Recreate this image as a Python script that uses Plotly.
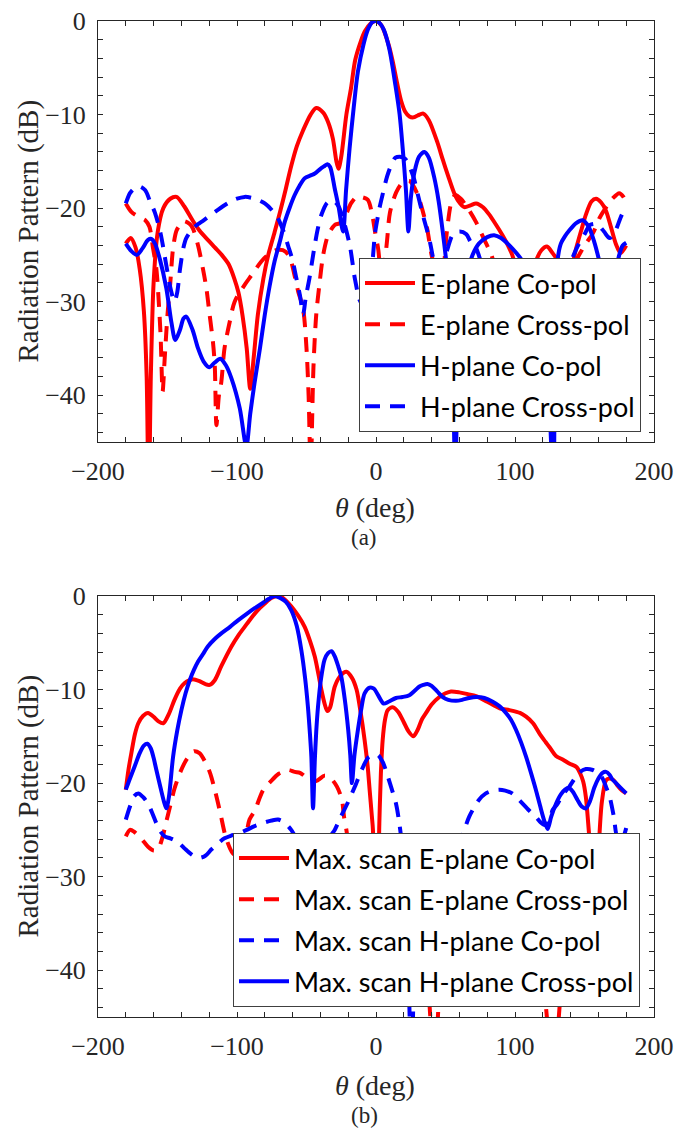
import plotly.graph_objects as go

# ---------------- (a) broadside patterns ----------------
theta_a_e_co = [-180, -176.5, -173, -170, -167, -165, -163.5, -162, -160, -157, -153, -148, -143.5, -138, -132,
                -127, -121, -116, -111, -106, -102, -99, -96, -93, -90.5, -88, -85, -81, -77.5, -73, -69, -65,
                -61, -57, -52.5, -47, -43, -38, -34.5, -31, -28.5, -27, -25, -21.3, -18, -15, -11, -8, -4, 0,
                4, 9, 12, 15, 18, 21, 24, 27, 30, 34, 38, 44, 48, 52, 56, 59, 63.5, 68, 72, 77, 81.5, 86, 91,
                95, 98, 102, 107, 112, 115, 119, 123, 127, 131, 136, 140, 144, 148, 151, 155, 158.3, 162,
                165.5, 169, 172.5, 176, 180]
db_a_e_co = [-23.8, -23.2, -24.2, -26.5, -31, -38, -52, -38, -28, -22.5, -20, -19, -18.8, -19.8, -21.3,
             -22.4, -23.4, -24.2, -25, -26, -27.5, -29, -31.5, -35, -39.3, -36, -31.4, -27.5, -25, -22.6, -20.4, -18,
             -15.5, -13.4, -11.7, -10, -9.3, -9.8, -10.8, -12.6, -15, -15.8, -14.5, -10, -7.2, -4.2, -2.2, -1.1, -0.3, 0,
             -0.5, -2.5, -4.3, -6.5, -8.5, -9.7, -10.2, -10.3, -10.1, -9.9, -10.6, -12.9, -14.8, -16.6, -18.3, -19.2, -19.9, -19.7, -19.5, -19.9, -20.7, -21.7, -22.9,
             -24, -25, -27, -29, -27.5, -25.7, -24.5, -24.1, -24.8, -25.7, -28, -26.8, -24.3, -22.2, -20.7, -19.3, -19, -19.4,
             -20.3, -22, -23.8, -24.8, -24]

theta_a_e_x = [-180, -176, -170, -166, -163, -160.5, -158, -156.5, -155, -153.5, -152, -150, -148, -146, -143.5,
               -140, -138, -134, -131.7, -128, -124.5, -122, -119.7, -117.3, -116, -114.8, -113, -111.3, -109,
               -105.3, -101.7, -94.5, -89.7, -82.5, -77.7, -72, -67, -63, -61, -56, -52.5, -50, -48.5, -47, -45,
               -43, -40.5, -38, -34.5, -29.7, -26, -22, -18, -14, -11, -6, -3, -0.5, 1.7, 4, 6.5, 8, 10, 14.6,
               19, 24, 29.5, 36.5, 41, 45.6, 48, 51, 54, 57, 61, 66, 72, 78, 83, 88, 95, 105, 115, 125, 135,
               142, 150, 156, 161, 166, 170, 175, 178, 180]
db_a_e_x = [-19.5, -20.4, -21, -21.3, -22, -24.2, -26.5, -29.5, -33.5, -39.6, -36, -31.4, -28, -24.3, -22.4,
            -21.6, -21.4, -21.7, -22.2, -24, -26.5, -28.6, -31.4, -34.3, -36.8, -43.2, -40, -38.6, -35,
            -32.2, -30, -28.2, -27.2, -25.7, -25, -24.5, -24.5, -25, -25.7, -28.9, -30.7, -35, -40, -48, -37,
            -31.4, -27.9, -25, -22.9, -21.8, -21.6, -20.8, -19.5, -18.8, -18.8, -19.1, -20.5, -22.7, -24.5, -28, -25.5, -23.4, -20.5, -18.3,
            -17.3, -17.1, -18.4, -22, -25.6, -26.8, -26.5, -22.5, -19.5, -18.6, -19, -20, -21.5, -23.4, -25, -27.5, -31, -35, -33, -29, -27,
            -26, -24, -22.7, -21, -19.8, -19, -18.4, -18.8, -19.5]

theta_a_h_co = [-180, -176, -172, -168, -164, -161.6, -159, -155.6, -150.8, -147.2, -144.4, -141, -138.5, -136.5,
                -132, -128, -124, -120, -116, -112, -108, -104, -98, -93.3, -90.5, -87.3, -83.5, -80, -76.5, -73,
                -69, -65.7, -62, -58.5, -55, -51.3, -47, -44, -40, -37, -35, -33, -29.7, -27, -23.7, -21.5, -19,
                -16, -13, -9, -5.8, -2.5, 0, 2.5, 5.5, 9.6, 14, 17, 19.2, 21.5, 23.3, 25, 27.6, 31, 34.8, 38, 42,
                45, 48, 51.6, 54.5, 57, 59.5, 63, 66, 69.5, 74, 80, 85, 90, 98, 105.5, 112, 118, 123, 127.5,
                129, 130.7, 133, 136, 139, 144, 148.7, 153, 157, 160.7, 164, 168, 172, 175, 177.5, 180]
db_a_h_co = [-23.8, -24.6, -25, -24.3, -23.4, -23.3, -23.8, -25.4, -28.6, -32.2, -34.1, -33, -31.8, -31.6,
             -33, -35, -36.4, -37, -36.5, -36.1, -36.8, -38.2, -41.4, -45.5, -42, -38.6, -35, -31.4, -28.3, -25.7,
             -23.5, -21.5, -19.9, -18.6, -17.6, -16.8, -16.5, -16.3, -15.8, -15.5, -15.3, -15.6, -17.9, -19.8, -22.5, -18, -13.6,
             -9.2, -5.4, -2.5, -0.9, -0.1, 0, -0.2, -0.9, -3, -6.9, -10, -13.6, -18, -22.5, -19, -16.2, -14.5, -14, -14.6, -16.8,
             -19.2, -22.5, -27.2, -33, -48, -35, -29.5, -26.8, -25, -23.8, -23.1, -22.9, -23.2, -24.3, -25.7, -28, -31.5, -36, -50,
             -32, -25.5, -23.8, -23, -22.4, -21.6, -21.3, -22, -23.6, -25.7, -28, -29, -27, -25, -24, -23.7]

theta_a_h_x = [-180, -177, -174, -170, -166, -162.5, -159, -155, -151, -147.5, -145, -143, -141, -138.5, -136.5,
               -130.5, -124, -118.5, -109, -102, -94.5, -87, -80, -75, -70.5, -66.5, -63.3, -60, -57.3, -54.5,
               -52.5, -50.5, -48, -45, -42, -39, -35, -31, -27, -23, -18.7, -15, -11, -7, -3, -0.7, 2.5, 5, 8,
               11.5, 14, 17, 19.5, 22, 27, 30, 34, 38.5, 42, 46, 49, 51.6, 55, 60, 65, 68, 72, 76, 80, 90, 110,
               130, 137, 141.7, 145, 150, 154, 159, 164, 168, 172, 176, 180]
db_a_h_x = [-19.5, -18.4, -17.9, -17.7, -18.1, -19.3, -20.5, -22.7, -26, -28.8, -30, -29, -26.5, -24.2, -23.2,
            -22, -21.3, -20.7, -19.7, -19.1, -18.8, -19, -19.5, -20.2, -21.1, -22.5, -24, -25.6, -27.5, -29.5,
            -31.4, -29.5, -27.6, -24.8, -22.3, -20.6, -19.4, -19.2, -19.8, -21.5, -24.1, -27.7, -30, -29, -26.3, -22.7, -20, -18.4, -16.6,
            -15.2, -14.6, -14.5, -14.6, -14.9, -16.7, -18.5, -20.9, -23.4, -26, -28, -25.5, -24.3, -22.9, -22.5, -22.8, -23.6, -24.3, -26, -28, -30, -32,
            -30, -27, -25.2, -24.1, -22.8, -21.8, -21.7, -22.5, -23.2, -22.5, -21, -19.7]

# ---------------- (b) maximum scan patterns ----------------
theta_b_e_co = [-180, -178, -176, -173.5, -171, -167.5, -164, -160, -156.5, -153, -149, -145, -141, -137.6, -134,
                -131.7, -127, -123, -119.7, -116, -111.3, -104, -99, -94.5, -90, -85, -80, -75, -71, -67, -61, -56,
                -51.3, -47.5, -44, -41.5, -39.3, -37, -35, -33, -29.7, -26, -21.3, -17.5, -14, -11, -8.2, -6, -4.6,
                -3, -2.2, 0, 2.4, 3.5, 4.8, 6.5, 8.4, 12, 16, 20, 23.5, 26.9, 30, 33, 36, 40, 45.6, 50, 54, 60, 66,
                72, 80, 89, 96, 103.6, 108, 113, 118, 122, 125, 129.5, 134.6, 139, 144.4, 147, 149, 151, 152.5,
                154, 156, 157.5, 159, 160.7, 162.5, 165.5, 168, 171, 174, 177, 180]
db_b_e_co = [-20.7, -18.5, -16.8, -14.8, -13.6, -12.8, -12.5, -12.9, -13.4, -13.6, -12.6, -11.1, -9.9, -9.3, -9,
             -8.9, -9.1, -9.4, -9.5, -9, -7.5, -5.4, -4.2, -3.3, -2.4, -1.5, -0.8, -0.2, 0, -0.2, -1.1, -2.1,
             -3.3, -4.8, -6.5, -8.3, -10, -11.5, -12.3, -11.9, -9.7, -8.6, -8.1, -8.7, -10, -12.5, -15.4, -18.2, -20.7,
             -23.5, -25, -42, -24.3, -19, -15.4, -13.2, -12.2, -11.9, -12.4, -13.5, -14.5, -15, -14.3, -13.2, -12.5, -11.6, -10.8, -10.4, -10.2, -10.3, -10.5,
             -10.7, -11.3, -12, -12.2, -12.5, -12.9, -13.6, -14.8, -15.6, -16.2, -17.1, -17.5, -17.9, -18.3, -19, -19.8, -21.5, -24,
             -27, -35, -40, -31, -25.7, -22, -19.7, -19.5, -19.7, -20.3, -20.8, -21.1]

theta_b_e_x = [-180, -177, -174, -169, -164, -160, -157, -154, -151, -148, -145, -141, -136, -131, -127, -123,
               -119.4, -115.5, -112, -108, -103, -98, -94, -91, -87, -84, -81, -75, -70, -67, -63, -58.5, -54.7,
               -50, -46, -42, -37, -33, -28, -24.5, -23, -21, -19, -10, 0, 10, 25, 35, 42, 48, 60, 80, 100, 115,
               127.5, 140, 155, 170, 180]
db_b_e_x = [-25.7, -25, -25.2, -25.9, -26.8, -27.2, -27.1, -26, -24.2, -22.4, -20.6, -18.9, -17.4, -16.6, -16.8, -17.7,
            -18.9, -21, -23.2, -25.8, -27.5, -27.8, -26, -23.9, -22.9, -21.7, -20.7, -19.7, -19, -18.8, -18.6, -18.8, -18.9,
            -19.4, -19.8, -19.7, -19.2, -19.4, -20.4, -21.8, -23.6, -25.3, -28, -31, -28, -30, -33, -38, -50, -38, -31, -28.5, -30, -35,
            -50, -33, -29, -27, -26.5]

theta_b_h_co = [-180, -177, -174, -171, -167.5, -164, -161, -158, -155, -152, -148, -145, -141, -137.6, -133,
                -128, -123, -118.5, -114, -109, -104, -99.3, -93, -87.3, -80, -75, -70.5, -66, -61, -57, -50, -45,
                -40, -35, -32, -29.7, -25, -20, -15.3, -10, -5.8, -2, 1.4, 5, 7, 10, 14.4, 16.8, 19, 22, 25.5, 29,
                35, 45, 55, 63.5, 67, 74, 79, 84, 88.7, 93, 98, 103, 110, 115, 118.5, 122, 125, 127, 130.7, 134,
                139, 146, 151, 156, 159.5, 163, 166, 168, 171, 174, 177, 180]
db_b_h_co = [-23.9, -22.5, -21.4, -21.1, -21.5, -22.2, -23.2, -24.3, -25.2, -25.7, -25.9, -26.1, -26.5, -27, -27.6,
             -28, -27.8, -27.1, -26.5, -25.9, -25.6, -25.4, -25, -24.6, -24.2, -24, -23.9, -24.2, -25, -26, -28, -28.5,
             -27.5, -26.2, -25.5, -25, -23.5, -22, -20.4, -18.5, -17.3, -17, -17, -17.8, -18.6, -20, -22.2, -24.3, -27, -33, -50, -35,
             -30, -28, -28, -25, -23.6, -21.8, -21.1, -20.8, -20.7, -20.8, -21.1, -21.8, -22.9, -23.6, -24.2, -24.5, -24, -22.9, -22.2, -21.3,
             -20.4, -18.9, -18.5, -18.6, -18.9, -19.5, -20.6, -21.4, -23.5, -26, -26, -24.8]

theta_b_h_x = [-180, -177, -173.6, -170, -167, -164.5, -162, -160, -158, -155, -152.5, -150.8, -149, -146, -143,
               -140, -137, -134, -131, -128, -124, -121, -116, -111.3, -105, -99.3, -93, -87.3, -82, -77, -73,
               -69, -65, -61, -57, -53.7, -51, -49, -47.5, -46.5, -45.3, -44, -43, -41.7, -39.5, -37, -34.5, -32,
               -29.5, -27, -25, -22.5, -20, -18.5, -17.3, -15.5, -13, -10.5, -8.2, -4.6, -1.5, 1.5, 5.5, 9, 14.4,
               19, 24, 28, 31, 34, 37, 40, 44, 48, 52, 57.6, 62, 67, 72, 78, 84, 89, 93.5, 97, 100.7, 104.5, 108,
               111.5, 115, 118, 121, 123.5, 126, 129.5, 133, 136, 138.6, 141.5, 145, 148, 151, 154, 157, 160, 163,
               165.5, 168, 170, 172.7, 176, 180]
db_b_h_x = [-20.7, -19.5, -18.2, -16.8, -16, -15.8, -16.3, -17.3, -18.6, -20.5, -22, -22.7, -21.5, -17.2, -14.4,
            -12.2, -10.4, -9, -7.9, -7, -6.1, -5.4, -4.6, -4, -3.3, -2.6, -1.9, -1.3, -0.8, -0.3, 0,
            -0.2, -0.6, -1.5, -3.2, -5.8, -8.8, -11.8, -14.8, -17.2, -22.7, -17.5, -14.5, -11.8, -8.8, -6.8, -6.1, -5.9,
            -6.5, -7.6, -8.6, -11, -14.3, -17, -20, -17, -14.3, -12, -10.4, -9.8, -9.9, -10.6, -11.5, -11.3, -10.9,
            -10.8, -10.6, -10.1, -9.7, -9.5, -9.4, -9.6, -10.2, -10.8, -11.1, -11.2, -11.1, -10.9, -10.8, -10.9, -11.3, -11.8, -12.5, -13.2, -14.3, -15.7, -17.2,
            -18.9, -20.7, -22.4, -24, -24.9, -23.6, -22.2, -21.2, -20.7, -20.5, -20.9, -21.8, -22.5, -22.7, -21.9, -20.5, -19.5, -18.9,
            -18.8, -19.1, -19.6, -20, -20.5, -21.1]

W, H = 679, 1131
RED, BLUE = "#ff0000", "#0000ff"
DASH = "15px,10px"
AXC = "#262626"
SERIF = "Liberation Serif, Times New Roman, serif"
SANS = "Lato, Carlito, sans-serif"


def px(x):
    return x / W


def py(y):
    return 1 - y / H


fig = go.Figure()

series = [
    # (theta, dB, colour, dash, label, axis suffix, legend id)
    (theta_a_e_co, db_a_e_co, RED, "solid", "E-plane Co-pol", "", "legend"),
    (theta_a_e_x, db_a_e_x, RED, DASH, "E-plane Cross-pol", "", "legend"),
    (theta_a_h_co, db_a_h_co, BLUE, "solid", "H-plane Co-pol", "", "legend"),
    (theta_a_h_x, db_a_h_x, BLUE, DASH, "H-plane Cross-pol", "", "legend"),
    (theta_b_e_co, db_b_e_co, RED, "solid", "Max. scan E-plane Co-pol", "2", "legend2"),
    (theta_b_e_x, db_b_e_x, RED, DASH, "Max. scan E-plane Cross-pol", "2", "legend2"),
    (theta_b_h_co, db_b_h_co, BLUE, DASH, "Max. scan H-plane Co-pol", "2", "legend2"),
    (theta_b_h_x, db_b_h_x, BLUE, "solid", "Max. scan H-plane Cross-pol", "2", "legend2"),
]
for i, (th, db, col, dash, name, ax, leg) in enumerate(series):
    fig.add_trace(go.Scatter(
        x=th, y=db, mode="lines", name=name,
        line=dict(color=col, width=4, dash=dash, shape="spline", smoothing=0.8),
        xaxis="x" + ax, yaxis="y" + ax, legend=leg, legendgroup="g%d" % i,
    ))

xdom = [px(98), px(654)]
common = dict(
    showline=True, linecolor=AXC, linewidth=1, mirror="ticks",
    ticks="inside", ticklen=5, tickwidth=1, tickcolor=AXC,
    showgrid=False, zeroline=False, automargin=False,
    tickfont=dict(family=SERIF, size=26, color=AXC),
)
xcfg = dict(common, range=[-200, 200], tick0=0, dtick=100,
            minor=dict(dtick=20, ticks="inside", ticklen=5, tickcolor=AXC, showgrid=False),
            ticklabelstandoff=6, domain=xdom)
ycfg = dict(common, range=[-45, 0], tick0=0, dtick=10,
            minor=dict(dtick=2, ticks="inside", ticklen=5, tickcolor=AXC, showgrid=False),
            ticklabelstandoff=6)

leg_common = dict(bgcolor="white", bordercolor="#404040", borderwidth=1,
                  font=dict(family=SANS, size=27, color="black"),
                  tracegroupgap=3, xanchor="right", yanchor="top", itemwidth=50)

fig.update_layout(
    width=W, height=H, autosize=False,
    margin=dict(l=0, r=0, t=0, b=0, autoexpand=False),
    paper_bgcolor="white", plot_bgcolor="white",
    xaxis=dict(xcfg, anchor="y"),
    yaxis=dict(ycfg, anchor="x", domain=[py(442), py(21)]),
    xaxis2=dict(xcfg, anchor="y2"),
    yaxis2=dict(ycfg, anchor="x2", domain=[py(1017), py(596)]),
    legend=dict(leg_common, x=px(641), y=py(258)),
    legend2=dict(leg_common, x=px(640), y=py(833)),
    showlegend=True,
)

ann = []
for yc, xt, lab in [(231.5, 507, "(a)"), (806.5, 1085, "(b)")]:
    ann.append(dict(text="Radiation Pattern (dB)", x=px(28), y=py(yc), xref="paper", yref="paper",
                    textangle=-90, showarrow=False, xanchor="center", yanchor="middle",
                    font=dict(family=SERIF, size=29, color=AXC)))
    ann.append(dict(text="<i>θ</i> (deg)", x=px(375), y=py(xt), xref="paper", yref="paper",
                    showarrow=False, xanchor="center", yanchor="middle",
                    font=dict(family=SERIF, size=28, color=AXC)))
    ann.append(dict(text=lab, x=px(364), y=py(xt + 30), xref="paper", yref="paper",
                    showarrow=False, xanchor="center", yanchor="middle",
                    font=dict(family=SERIF, size=23, color=AXC)))
fig.update_layout(annotations=ann)

fig.write_html("out.html")
